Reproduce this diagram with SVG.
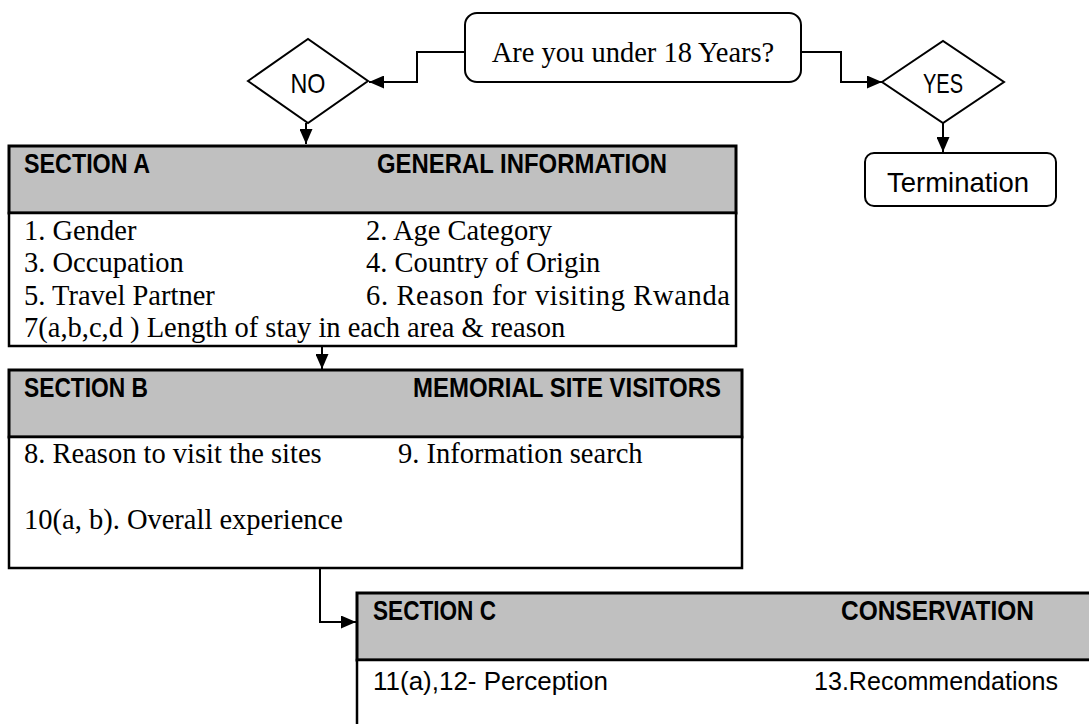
<svg xmlns="http://www.w3.org/2000/svg" width="1089" height="724" viewBox="0 0 1089 724">
<style>
.box{fill:#fff;stroke:#000;stroke-width:2}
.hdr{fill:#c0c0c0;stroke:#000;stroke-width:3}
.body{fill:#fff;stroke:#000;stroke-width:2.5}
.con{fill:none;stroke:#000;stroke-width:2}
.serif{font-family:"Liberation Serif","Times New Roman",serif;font-size:28.5px;fill:#000}
.sans{font-family:"Liberation Sans",Arial,sans-serif;font-size:28px;fill:#000}
.bold{font-family:"Liberation Sans",Arial,sans-serif;font-size:28px;font-weight:bold;fill:#000}
.sm{font-family:"Liberation Sans",Arial,sans-serif;font-size:25px;fill:#000}
</style>
<defs>
<marker id="arr" markerUnits="userSpaceOnUse" markerWidth="15" markerHeight="13" refX="15" refY="6.5" orient="auto">
<path d="M0,0 L15,6.5 L0,13 z" fill="#000"/>
</marker>
</defs>
<rect width="1089" height="724" fill="#fff"/>
<g id="connectors">
<path class="con" d="M465,52 H417 V82 H369" marker-end="url(#arr)"/>
<path class="con" d="M801,52 H841 V82 H882" marker-end="url(#arr)"/>
<path class="con" d="M306,123 V144" marker-end="url(#arr)"/>
<path class="con" d="M943,123 V152" marker-end="url(#arr)"/>
<path class="con" d="M322,338 V369" marker-end="url(#arr)"/>
<path class="con" d="M320,568 V622 H356" marker-end="url(#arr)"/>
</g>
<g id="question">
<rect class="box" x="465" y="13" width="336" height="69" rx="12"/>
<text class="serif" x="633" y="62" text-anchor="middle" font-size="29">Are you under 18 Years?</text>
</g>
<g id="no">
<path class="box" d="M248,81 L308,39 L368,81 L308,123 Z"/>
<text class="sans" x="308" y="93" text-anchor="middle" textLength="35" lengthAdjust="spacingAndGlyphs">NO</text>
</g>
<g id="yes">
<path class="box" d="M882,82 L943,41 L1004,82 L943,123 Z"/>
<text class="sans" x="943" y="93" text-anchor="middle" textLength="40" lengthAdjust="spacingAndGlyphs">YES</text>
</g>
<g id="termination">
<rect class="box" x="865" y="153" width="191" height="53" rx="9"/>
<text class="sans" x="958" y="192" text-anchor="middle" textLength="142" lengthAdjust="spacingAndGlyphs">Termination</text>
</g>
<g id="sectionA">
<rect class="hdr" x="9" y="146" width="727" height="67"/>
<rect class="body" x="9" y="213" width="727" height="133"/>
<text class="bold" x="24" y="173" textLength="126" lengthAdjust="spacingAndGlyphs">SECTION A</text>
<text class="bold" x="377" y="173" textLength="290" lengthAdjust="spacingAndGlyphs">GENERAL INFORMATION</text>
<text class="serif" x="24" y="240">1. Gender</text>
<text class="serif" x="366" y="240">2. Age Category</text>
<text class="serif" x="24" y="272">3. Occupation</text>
<text class="serif" x="366" y="272">4. Country of Origin</text>
<text class="serif" x="24" y="305">5. Travel Partner</text>
<text class="serif" x="366" y="305" textLength="364" lengthAdjust="spacing">6. Reason for visiting Rwanda</text>
<text class="serif" x="24" y="337">7(a,b,c,d ) Length of stay in each area &amp; reason</text>
</g>
<g id="sectionB">
<rect class="hdr" x="9" y="370" width="733" height="67"/>
<rect class="body" x="9" y="437" width="733" height="131"/>
<text class="bold" x="24" y="397" textLength="124" lengthAdjust="spacingAndGlyphs">SECTION B</text>
<text class="bold" x="413" y="397" textLength="308" lengthAdjust="spacingAndGlyphs">MEMORIAL SITE VISITORS</text>
<text class="serif" x="24" y="463">8. Reason to visit the sites</text>
<text class="serif" x="398" y="463">9. Information search</text>
<text class="serif" x="24" y="529">10(a, b). Overall experience</text>
</g>
<g id="sectionC">
<rect class="hdr" x="357" y="593" width="760" height="67"/>
<rect class="body" x="357" y="660" width="760" height="100"/>
<text class="bold" x="373" y="620" textLength="123" lengthAdjust="spacingAndGlyphs">SECTION C</text>
<text class="bold" x="841" y="620" textLength="193" lengthAdjust="spacingAndGlyphs">CONSERVATION</text>
<text class="sm" x="373" y="690" textLength="235" lengthAdjust="spacingAndGlyphs">11(a),12- Perception</text>
<text class="sm" x="814" y="690" textLength="244" lengthAdjust="spacingAndGlyphs">13.Recommendations</text>
</g>
</svg>
